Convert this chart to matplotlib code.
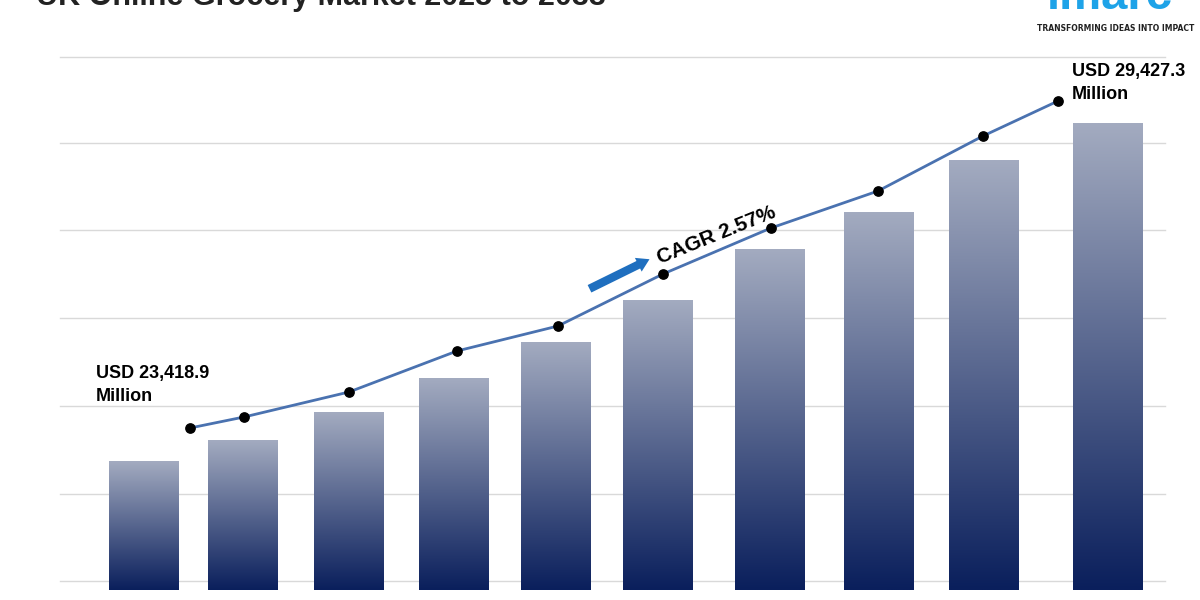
import numpy as np
import matplotlib
matplotlib.use("Agg")
import matplotlib.pyplot as plt
from matplotlib.colors import LinearSegmentedColormap

# valores (escala arbitraria)
years = [2025, 2026, 2027, 2028, 2029, 2030, 2031, 2032, 2033, 2034]
bar_x = [144, 243, 349, 454, 556, 658, 770, 879, 984, 1108]
bar_h = [129, 150, 178, 212, 248, 290, 341, 378, 430, 467]
line_x = [190, 244, 349, 457, 558, 663, 771, 878, 983, 1058]
line_y = [162, 173, 198, 239, 264, 316, 362, 399, 454, 489]
grid_y = [9, 96, 184, 272, 360, 447, 533]

fig = plt.figure(figsize=(12, 6), dpi=100)
ax = fig.add_axes([0, 0, 1, 1])
ax.set_xlim(0, 1200); ax.set_ylim(-10, 590)
ax.axis("off")

for g in grid_y:
    ax.plot([60, 1165], [g, g], color="#d9d9d9", lw=1, zorder=0)

cmap = LinearSegmentedColormap.from_list("g", ["#0a1f5c", "#a3abc0"])
grad = np.linspace(0, 1, 256).reshape(-1, 1)
for x, h in zip(bar_x, bar_h):
    w = 70
    im = ax.imshow(grad, cmap=cmap, extent=[x - w/2, x + w/2, 0, h],
                   origin="lower", aspect="auto", zorder=1)
    r = plt.Rectangle((x - w/2, 0), w, h, transform=ax.transData, visible=False)
    ax.add_patch(r)
    im.set_clip_path(r)

ax.plot(line_x, line_y, color="#4a72b0", lw=2, zorder=2)
ax.scatter(line_x, line_y, s=45, color="black", zorder=3)

ax.text(96, 205, "USD 23,418.9\nMillion", fontsize=13, fontweight="bold",
        va="center", ha="left", linespacing=1.5, family="Liberation Sans")
ax.text(1072, 507, "USD 29,427.3\nMillion", fontsize=13, fontweight="bold",
        va="center", ha="left", linespacing=1.5, family="Liberation Sans")
ax.annotate("", xy=(652, 332), xytext=(587, 300),
            arrowprops=dict(arrowstyle="simple,head_width=1.1,head_length=0.9,tail_width=0.6",
                            color="#1f6fbf", lw=0))
ax.text(716, 355, "CAGR 2.57%", fontsize=15, fontweight="bold", rotation=22,
        ha="center", va="center", family="Liberation Sans")

fig.text(0.03, 1.005, "UK Online Grocery Market 2025 to 2033", fontsize=22,
         fontweight="bold", va="center", ha="left", color="#222222",
         family="Liberation Sans")
fig.text(0.925, 1.005, "imarc", fontsize=34, fontweight="bold", color="#1ea3e8",
         va="center", ha="center", family="Liberation Sans")
fig.text(0.93, 0.953, "TRANSFORMING IDEAS INTO IMPACT", fontsize=5.5,
         fontweight="bold", ha="center", va="center", color="#222222")

fig.savefig("out.png", dpi=100)
